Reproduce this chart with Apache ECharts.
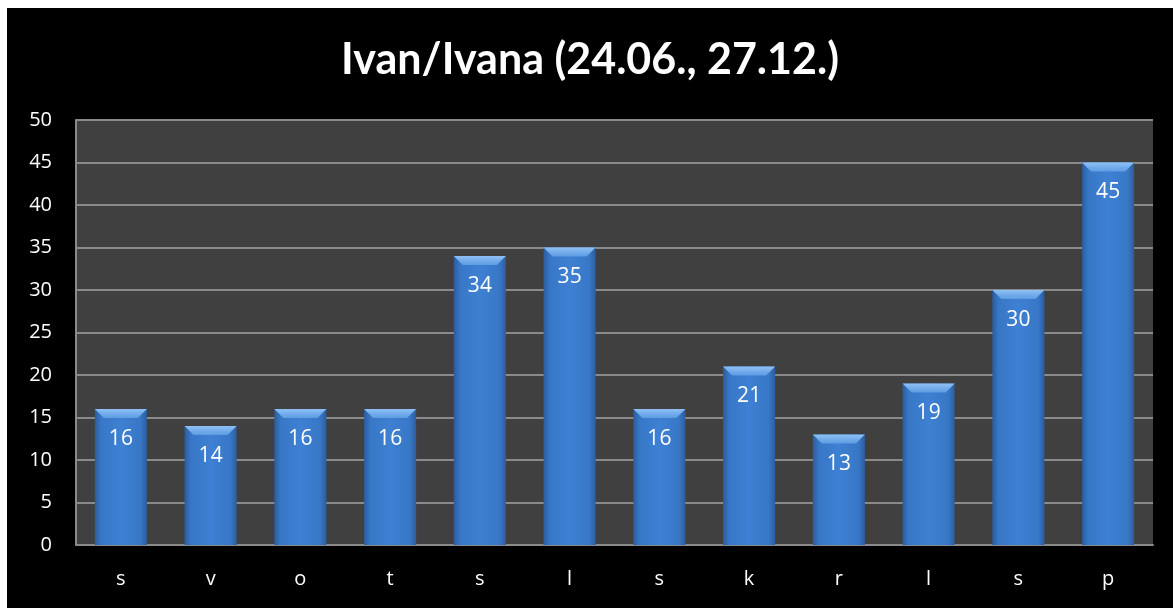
<!DOCTYPE html>
<html>
<head>
<meta charset="utf-8">
<script src="https://cdn.jsdelivr.net/npm/echarts@6/dist/echarts.min.js"></script>
<style>
  html, body { margin: 0; padding: 0; background: #ffffff; }
  #chart { position: absolute; left: 7px; top: 8px; width: 1166px; height: 600px; background: #000; }
</style>
</head>
<body>
<div id="chart"></div>
<script>
"use strict";
var titleText = "Ivan/Ivana (24.06., 27.12.)";
var categories = ["s", "v", "o", "t", "s", "l", "s", "k", "r", "l", "s", "p"];
var values = [16, 14, 16, 16, 34, 35, 16, 21, 13, 19, 30, 45];
var yMin = 0, yMax = 50, yStep = 5;

var chart = echarts.init(document.getElementById("chart"));

// bar with a bevelled top, drawn from the axis scales
function renderBar(params, api) {
    var top = api.coord([api.value(0), api.value(1)]);
    var base = api.coord([api.value(0), 0]);
    var w = api.size([1, 0])[0] * 0.58;
    var x0 = top[0] - w / 2, x1 = top[0] + w / 2;
    var y0 = top[1], y1 = base[1];
    var b = 9;
    return {
        type: "group",
        children: [
            {
                type: "rect",
                shape: { x: x0, y: y0, width: w, height: y1 - y0 },
                style: {
                    fill: new echarts.graphic.LinearGradient(0, 0, 1, 0, [
                        { offset: 0, color: "#2b5d9e" },
                        { offset: 0.12, color: "#3877c6" },
                        { offset: 0.5, color: "#3e80d3" },
                        { offset: 0.88, color: "#3877c6" },
                        { offset: 1, color: "#2b5d9e" }
                    ])
                }
            },
            {
                type: "polygon",
                shape: { points: [[x0, y0], [x1, y0], [x1 - b, y0 + b], [x0 + b, y0 + b]] },
                style: {
                    fill: new echarts.graphic.LinearGradient(0, 0, 0, 1, [
                        { offset: 0, color: "#8ec0f5" },
                        { offset: 1, color: "#5d9be2" }
                    ])
                }
            },
            {
                type: "text",
                x: top[0],
                y: y0 + 30,
                style: {
                    text: String(api.value(1)),
                    fill: "#ffffff",
                    font: "21px 'Open Sans', sans-serif",
                    align: "center",
                    verticalAlign: "middle"
                }
            }
        ]
    };
}

var option = {
    backgroundColor: "#000000",
    title: {
        text: titleText,
        left: "center",
        top: 26,
        textStyle: {
            color: "#ffffff",
            fontSize: 43,
            fontWeight: "bold",
            fontFamily: "Lato, 'Open Sans', sans-serif"
        }
    },
    grid: {
        left: 69,
        right: 20,
        top: 112,
        bottom: 63,
        show: true,
        backgroundColor: "#404040",
        borderWidth: 0
    },
    xAxis: {
        type: "category",
        data: categories,
        axisLine: { show: true, lineStyle: { color: "#8a8a8a", width: 2 } },
        axisTick: { show: false },
        axisLabel: {
            color: "#ffffff",
            fontSize: 20,
            fontFamily: "'Open Sans', sans-serif",
            margin: 24
        }
    },
    yAxis: {
        type: "value",
        min: yMin,
        max: yMax,
        interval: yStep,
        axisLine: { show: true, lineStyle: { color: "#8a8a8a", width: 2 } },
        axisTick: { show: false },
        splitLine: { lineStyle: { color: "#8a8a8a", width: 2 } },
        axisLabel: {
            color: "#ffffff",
            fontSize: 20,
            fontFamily: "'Open Sans', sans-serif",
            margin: 24
        }
    },
    series: [{
        type: "custom",
        renderItem: renderBar,
        encode: { x: 0, y: 1 },
        data: values.map(function (v, i) { return [i, v]; })
    }]
};

chart.setOption(option);
</script>
</body>
</html>
